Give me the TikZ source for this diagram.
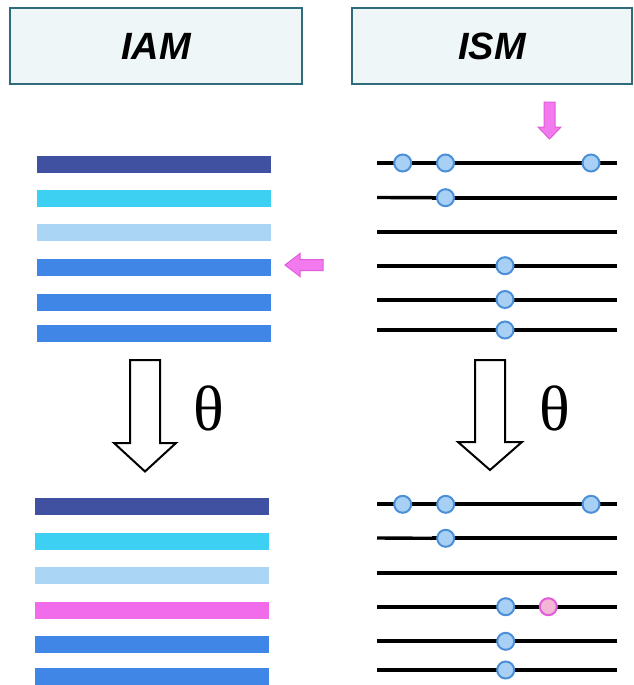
\documentclass[tikz,border=0pt]{standalone}
\usepackage{fontspec}
\setmainfont{Liberation Sans}
\newfontfamily\greekserif{Liberation Serif}
\definecolor{hdrfill}{HTML}{EEF6F8}
\definecolor{hdrline}{HTML}{2F6B7B}
\definecolor{barA}{HTML}{3F51A0}
\definecolor{barB}{HTML}{3DD0F2}
\definecolor{barC}{HTML}{AAD5F5}
\definecolor{barD}{HTML}{3F86E6}
\definecolor{barP}{HTML}{F06CEB}
\definecolor{dotfill}{HTML}{A8D0F5}
\definecolor{dotline}{HTML}{4A8FD8}
\definecolor{pinkfill}{HTML}{F4B6D6}
\definecolor{pinkline}{HTML}{E05CD8}
\definecolor{pinkarrow}{HTML}{F27AEE}
\begin{document}
\begin{tikzpicture}[x=1pt,y=-1pt,
  hdr/.style={draw=hdrline, fill=hdrfill, line width=2pt, inner sep=0pt,
    minimum height=76pt, font=\fontsize{38}{38}\selectfont\bfseries\itshape},
  bar/.style={rectangle, inner sep=0pt, minimum width=234pt, minimum height=17pt},
  seq/.style={line width=4pt, line cap=butt},
  seqthin/.style={line width=3.4pt, line cap=butt},
  dot/.style={circle, draw=dotline, fill=dotfill, line width=2pt, inner sep=0pt, minimum size=17pt},
  pdot/.style={dot, draw=pinkline, fill=pinkfill},
  hollow/.style={draw=black, fill=white, line width=2pt, line join=miter},
  pinkarr/.style={draw=pinkline, fill=pinkarrow, line width=1pt},
  thetalbl/.style={font=\greekserif\fontsize{64}{64}\selectfont, inner sep=0pt}]
\useasboundingbox (0,0) rectangle (634,685);

% headers
\node[hdr, minimum width=292pt] (iam) at (156,46) {IAM};
\node[hdr, minimum width=280pt] (ism) at (492,46) {ISM};

% IAM alignment columns before and after theta
\foreach \y/\c [count=\i] in {164/barA,198/barB,232.5/barC,267.5/barD,302/barD,333.5/barD}
  \node[bar, fill=\c] (ta\i) at (154,\y) {};
\foreach \y/\c [count=\i] in {506/barA,541/barB,575.5/barC,610/barP,644.5/barD,676.5/barD}
  \node[bar, fill=\c] (ba\i) at (152,\y) {};

% marker pointing at the fourth row
\draw[pinkarr] (285,265) -- (300,253.5) -- (300,259.5) -- (323,259.5)
  -- (323,270.5) -- (300,270.5) -- (300,276.5) -- cycle;

% ISM sequences before theta
\coordinate (s1l) at (377,163);   \coordinate (s1r) at (617,163);
\coordinate (s2l) at (377,197.5); \coordinate (s2m) at (432,197.7); \coordinate (s2r) at (617,197.7);
\coordinate (s3l) at (377,231.7); \coordinate (s3r) at (617,231.7);
\coordinate (s4l) at (377,265.7); \coordinate (s4r) at (617,265.7);
\coordinate (s5l) at (377,299.5); \coordinate (s5r) at (617,299.5);
\coordinate (s6l) at (377,330);   \coordinate (s6r) at (617,330);
\draw[seq] (s1l) -- (s1r);
\draw[seqthin] (s2l) -- (s2m);
\draw[seq] (s2m) -- (s2r);
\draw[seq] (s3l) -- (s3r);
\draw[seq] (s4l) -- (s4r);
\draw[seq] (s5l) -- (s5r);
\draw[seq] (s6l) -- (s6r);
\node[dot] (d11) at (402.7,163) {};
\node[dot] (d12) at (445.5,163) {};
\node[dot] (d13) at (591,163) {};
\node[dot] (d21) at (445.5,197.7) {};
\node[dot] (d41) at (505,265.7) {};
\node[dot] (d51) at (505,299.5) {};
\node[dot] (d61) at (505,330) {};

% marker above the first sequence
\draw[pinkarr] (549.5,139) -- (538,127) -- (544,127) -- (544,102)
  -- (555,102) -- (555,127) -- (561,127) -- cycle;

% ISM sequences after theta
\coordinate (u1l) at (377,504.3); \coordinate (u1r) at (617,504.3);
\coordinate (u2l) at (377,538);   \coordinate (u2m) at (432,538.3); \coordinate (u2r) at (617,538.3);
\coordinate (u3l) at (377,572.7); \coordinate (u3r) at (617,572.7);
\coordinate (u4l) at (377,606.7); \coordinate (u4r) at (617,606.7);
\coordinate (u5l) at (377,641.3); \coordinate (u5r) at (617,641.3);
\coordinate (u6l) at (377,670);   \coordinate (u6r) at (617,670);
\draw[seq] (u1l) -- (u1r);
\draw[seqthin] (u2l) -- (u2m);
\draw[seq] (u2m) -- (u2r);
\draw[seq] (u3l) -- (u3r);
\draw[seq] (u4l) -- (u4r);
\draw[seq] (u5l) -- (u5r);
\draw[seq] (u6l) -- (u6r);
\node[dot] (e11) at (402.7,504.3) {};
\node[dot] (e12) at (445.7,504.3) {};
\node[dot] (e13) at (591,504.3) {};
\node[dot] (e21) at (445.7,538.3) {};
\node[dot] (e41) at (505.7,606.7) {};
\node[pdot] (e42) at (548.3,606.7) {};
\node[dot] (e51) at (505.7,641.3) {};
\node[dot] (e61) at (505.7,670) {};

% theta transitions
\draw[hollow] (130,360) -- (160,360) -- (160,443) -- (176,443) -- (145,471.5)
  -- (114,443) -- (130,443) -- cycle;
\node[thetalbl] (th1) at (209,408) {θ};
\draw[hollow] (475,360) -- (505,360) -- (505,442) -- (522,442) -- (490,470)
  -- (458,442) -- (475,442) -- cycle;
\node[thetalbl] (th2) at (555,408) {θ};
\end{tikzpicture}
\end{document}
